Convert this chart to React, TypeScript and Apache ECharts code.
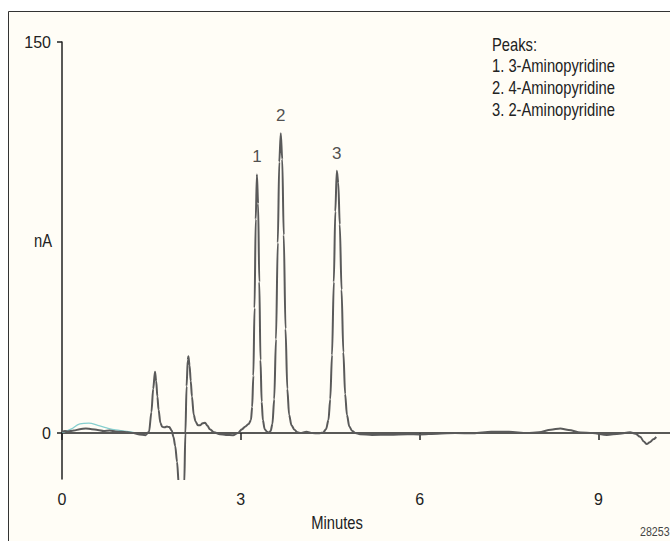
import React, { useEffect, useRef } from "react";
import * as echarts from "echarts";

// Main chromatogram trace (minutes, nA)
const minutes = [
  0.0, 0.05, 0.1, 0.2, 0.3, 0.4, 0.5, 0.6, 0.7, 0.8, 0.9, 1.0, 1.1, 1.2, 1.3, 1.4,
  1.46, 1.5, 1.53, 1.56, 1.58, 1.6, 1.62, 1.65, 1.68, 1.72, 1.76, 1.8, 1.84, 1.87,
  1.9, 1.93, 1.96, 1.99, 2.02, 2.05, 2.07, 2.09, 2.11, 2.12, 2.14, 2.16, 2.18, 2.21,
  2.24, 2.28, 2.32, 2.36, 2.4, 2.44, 2.48, 2.55, 2.65, 2.75, 2.87, 2.95, 3.02, 3.07,
  3.13, 3.17, 3.19, 3.21, 3.23, 3.25, 3.27, 3.29, 3.31, 3.33, 3.35, 3.37, 3.4, 3.44,
  3.47, 3.5, 3.53, 3.56, 3.59, 3.62, 3.645, 3.67, 3.695, 3.72, 3.75, 3.78, 3.81, 3.85,
  3.9, 3.95, 4.0, 4.1, 4.2, 4.3, 4.38, 4.43, 4.47, 4.5, 4.53, 4.56, 4.585, 4.61, 4.635,
  4.66, 4.69, 4.72, 4.75, 4.78, 4.82, 4.87, 4.92, 5.0, 5.2, 5.5, 5.8, 6.0, 6.3, 6.6,
  6.9, 7.2, 7.5, 7.8, 8.0, 8.2, 8.36, 8.5, 8.7, 8.9, 9.14, 9.35, 9.53, 9.62, 9.7, 9.76,
  9.81, 9.86, 9.92, 9.97,
];
const signalNA = [
  0.5, 0.8, 0.6, 1.0, 1.5, 1.8, 1.5, 1.2, 0.8, 1.0, 0.6, 0.5, 0.3, 0.0, -0.5, -0.8,
  0.5, 8, 17, 23.5, 20, 14, 9, 4, 2.4, 2.2, 2.5, 2.3, 1.0, -1.5,
  -5, -11, -20, -35, -40, -20, 0, 18, 28, 29.5, 26, 20, 14, 7,
  4.5, 3, 3, 3.8, 4, 2.8, 1.5, 0.3, -0.4, -0.7, -0.8, 0, 1.5, 2.4,
  3.5, 5, 10, 22, 48, 82, 99.2, 88, 58, 28, 12, 5, 1.5, 0.5,
  0.1, 0.8, 3.5, 13, 36, 73, 104, 115, 105, 76, 40, 17, 7, 3,
  1.3, 0.3, 0, 0.5, 0, -0.1, 0.2, 1.5, 5, 13, 30, 58, 85, 100.6, 96,
  80, 55, 31, 15, 7, 2.5, 0.8, 0, -0.4, -0.7, -0.6, -0.4, -0.5, -0.2, 0,
  -0.1, 0.5, 0.5, 0, 0.3, 1.3, 1.8, 1.2, 0.2, 0, -0.7, -0.2, 0.3, -0.2, -1.4, -3.2,
  -4.2, -3.5, -2.4, -1.5,
];

// Overlaid run visible near the start of the trace
const overlayMinutes = [0.0, 0.15, 0.3, 0.45, 0.6, 0.75, 0.9, 1.05, 1.2];
const overlayNA = [0.2, 1.5, 3.5, 3.8, 3.0, 2.0, 1.2, 0.8, 0.3];

const xTicks = [0, 3, 6, 9];
const yTicks = [0, 150];
const xMin = 0;
const xMax = 10.2;
const yMin = -17.6;
const yMax = 150;

const peakMinutes = [3.27, 3.67, 4.61];
const peakHeights = [99.2, 115, 100.6];
const peakLabels = ["1", "2", "3"];

const legendLines = ["Peaks:", "1. 3-Aminopyridine", "2. 4-Aminopyridine", "3. 2-Aminopyridine"];
const xAxisTitle = "Minutes";
const yAxisTitle = "nA";
const figureCode = "28253";

const FONT = '"Liberation Sans", Arial, sans-serif';
const TEXT = "#222";
const NARROW = 0.82;

export default function App() {
  const ref = useRef<HTMLDivElement>(null);

  useEffect(() => {
    if (!ref.current) return;
    const chart = echarts.init(ref.current, undefined, { renderer: "svg" });
    const mainData = minutes.map((m, i) => [m, signalNA[i]]);
    const overlayData = overlayMinutes.map((m, i) => [m, overlayNA[i]]);
    const peakData = peakMinutes.map((m, i) => [m, peakHeights[i]]);

    const narrowText = (x: number, y: number, text: string, align: string, size = 18, fill = TEXT) => ({
      type: "text",
      x,
      y,
      scaleX: NARROW,
      silent: true,
      style: { text, fontSize: size, fontFamily: FONT, fill, textAlign: align, textVerticalAlign: "middle" },
    });

    chart.setOption({
      animation: false,
      backgroundColor: "#ffffff",
      grid: { left: 62, right: 0, top: 42, bottom: 62, containLabel: false },
      xAxis: {
        type: "value",
        min: xMin,
        max: xMax,
        axisLine: { show: true, lineStyle: { color: TEXT, width: 1.5 } },
        axisTick: { show: true, customValues: xTicks, length: 7, inside: false, lineStyle: { color: TEXT, width: 1.5 } },
        axisLabel: { show: true, customValues: xTicks, margin: 12, fontSize: 16, color: TEXT, fontFamily: FONT },
        splitLine: { show: false },
      },
      yAxis: {
        type: "value",
        min: yMin,
        max: yMax,
        axisLine: { show: true, lineStyle: { color: TEXT, width: 1.5 } },
        axisTick: { show: true, customValues: yTicks, length: 5, inside: false, lineStyle: { color: TEXT, width: 1.5 } },
        axisLabel: { show: true, customValues: yTicks, margin: 11, fontSize: 16, color: TEXT, fontFamily: FONT },
        splitLine: { show: false },
      },
      graphic: [
        {
          type: "rect",
          z: -10,
          silent: true,
          shape: { x: 8.5, y: 11.5, width: 720, height: 620 },
          style: { fill: "#fffdf6", stroke: "#333", lineWidth: 1 },
        },
        narrowText(43, 240, yAxisTitle, "center"),
        narrowText(337, 522, xAxisTitle, "center"),
        narrowText(640, 532, figureCode, "left", 13, "#444"),
        ...legendLines.map((line, i) => narrowText(492, 44 + i * 21.8, line, "left")),
      ],
      series: [
        {
          type: "line",
          data: overlayData,
          showSymbol: false,
          smooth: 0.4,
          lineStyle: { color: "#86cfcf", width: 1.3 },
          z: 1,
        },
        {
          type: "line",
          data: mainData,
          showSymbol: false,
          smooth: 0.3,
          smoothMonotone: "x",
          clip: true,
          lineStyle: { color: "#5a5a5a", width: 2 },
          z: 2,
        },
        {
          type: "scatter",
          data: peakData,
          symbolSize: 0,
          label: {
            show: true,
            position: "top",
            distance: 9,
            fontSize: 17,
            fontFamily: FONT,
            color: TEXT,
            formatter: (p: any) => peakLabels[p.dataIndex],
          },
          z: 3,
        },
      ],
    });

    return () => chart.dispose();
  }, []);

  return (
    <div
      ref={ref}
      style={{ position: "fixed", left: 0, top: 0, width: 670, height: 541, background: "#ffffff" }}
    />
  );
}
